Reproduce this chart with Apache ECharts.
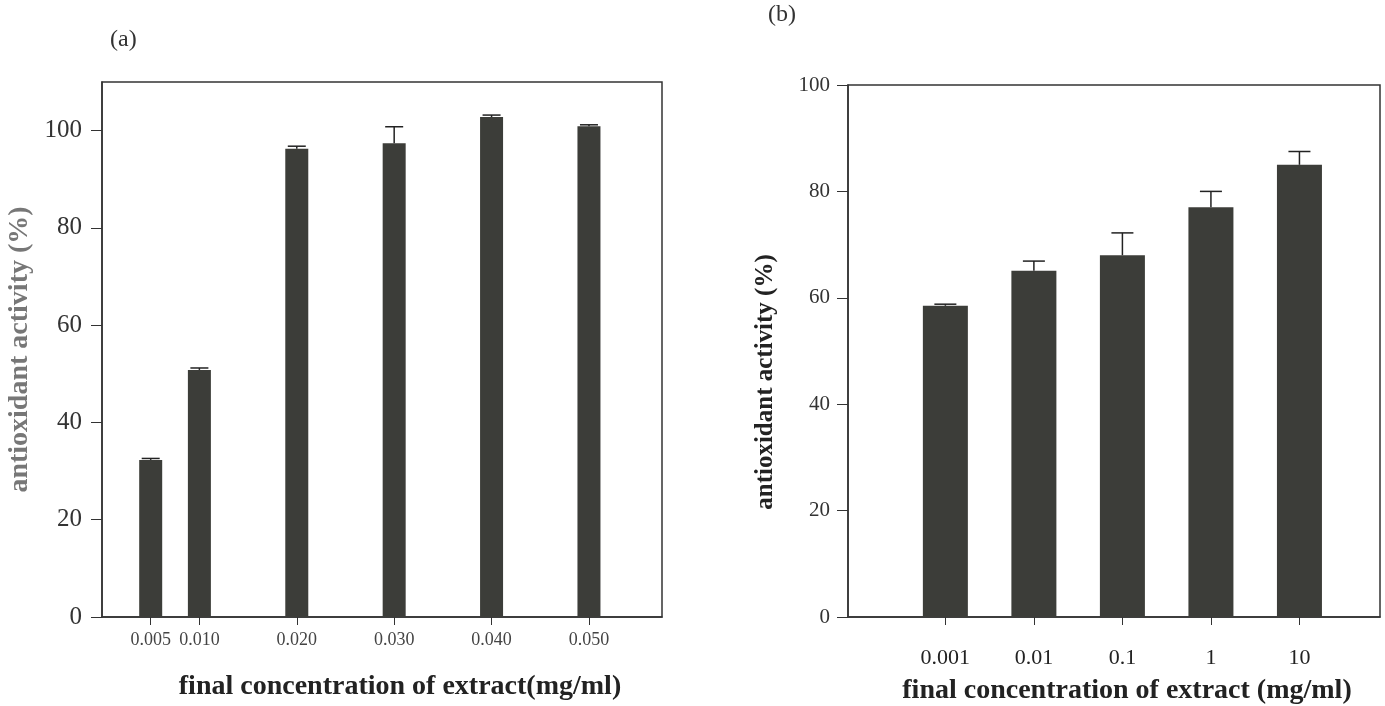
<!DOCTYPE html>
<html>
<head>
<meta charset="utf-8">
<script src="https://cdn.jsdelivr.net/npm/echarts@6/dist/echarts.min.js"></script>
<style>
html, body { margin: 0; padding: 0; background: #fff; }
#chart { width: 1385px; height: 706px; }
</style>
</head>
<body>
<div id="chart"></div>
<script>
// panel (a)
var concA = [0.005, 0.010, 0.020, 0.030, 0.040, 0.050];
var actA = [32.3, 50.8, 96.3, 97.4, 102.8, 100.9];
var errA = [0.3, 0.4, 0.5, 3.4, 0.4, 0.3];
// panel (b), log-spaced concentrations
var concB = ['0.001', '0.01', '0.1', '1', '10'];
var actB = [58.5, 65.1, 68.0, 77.0, 85.0];
var errB = [0.3, 1.8, 4.2, 3.0, 2.5];
var yTicks = [0, 20, 40, 60, 80, 100];

var barColor = '#3c3d39';
var serif = 'Liberation Serif, Times New Roman, serif';

var posB = concB.map(function (c) { return Math.log10(parseFloat(c)); });

var chart = echarts.init(document.getElementById('chart'));

function errItem(capW) {
  return function (params, api) {
    var x = api.value(0), y = api.value(1), e = api.value(2);
    var p0 = api.coord([x, y]);
    var p1 = api.coord([x, y + e]);
    var style = { stroke: '#222', lineWidth: 1.5 };
    return {
      type: 'group',
      children: [
        { type: 'line', shape: { x1: p0[0], y1: p0[1], x2: p1[0], y2: p1[1] }, style: style },
        { type: 'line', shape: { x1: p1[0] - capW / 2, y1: p1[1], x2: p1[0] + capW / 2, y2: p1[1] }, style: style }
      ]
    };
  };
}

var option = {
  animation: false,
  graphic: [
    { type: 'text', left: 110, top: 28, style: { text: '(a)', font: '24px ' + serif, fill: '#333' } },
    { type: 'text', left: 768, top: 3, style: { text: '(b)', font: '24px ' + serif, fill: '#333' } }
  ],
  grid: [
    { left: 102, top: 82, width: 560, height: 535, outerBoundsMode: 'none', show: true, borderColor: '#333', borderWidth: 1.5 },
    { left: 848, top: 85, width: 532, height: 532, outerBoundsMode: 'none', show: true, borderColor: '#333', borderWidth: 1.5 }
  ],
  xAxis: [
    {
      gridIndex: 0, type: 'value', min: 0, max: 0.0575,
      splitLine: { show: false },
      axisLine: { onZero: false, lineStyle: { color: '#333', width: 1.5 } },
      axisTick: { customValues: concA, length: 8, lineStyle: { color: '#333' } },
      axisLabel: {
        customValues: concA, margin: 14, color: '#444', fontFamily: serif, fontSize: 18,
        formatter: function (v) { return v.toFixed(3); }
      },
      name: 'final concentration of extract(mg/ml)', nameLocation: 'middle', nameGap: 56,
      nameTextStyle: { fontFamily: serif, fontWeight: 'bold', fontSize: 28, color: '#222', padding: [0, 0, 0, 36] }
    },
    {
      gridIndex: 1, type: 'value', min: -4.1, max: 1.91,
      splitLine: { show: false },
      axisLine: { onZero: false, lineStyle: { color: '#333', width: 1.5 } },
      axisTick: { customValues: posB, length: 8, lineStyle: { color: '#333' } },
      axisLabel: {
        customValues: posB, margin: 30, color: '#222', fontFamily: serif, fontSize: 22,
        formatter: function (v) { return concB[posB.indexOf(v)]; }
      },
      name: 'final concentration of extract (mg/ml)', nameLocation: 'middle', nameGap: 60,
      nameTextStyle: { fontFamily: serif, fontWeight: 'bold', fontSize: 28, color: '#222', padding: [0, 0, 0, 26] }
    }
  ],
  yAxis: [
    {
      gridIndex: 0, type: 'value', min: 0, max: 110,
      splitLine: { show: false },
      axisLine: { onZero: false, lineStyle: { color: '#333', width: 1.5 } },
      axisTick: { customValues: yTicks, length: 11, lineStyle: { color: '#333' } },
      axisLabel: { customValues: yTicks, margin: 20, color: '#333', fontFamily: serif, fontSize: 25 },
      name: 'antioxidant activity (%)', nameLocation: 'middle', nameGap: 68,
      nameTextStyle: { fontFamily: serif, fontWeight: 'bold', fontSize: 28, color: '#777' }
    },
    {
      gridIndex: 1, type: 'value', min: 0, max: 100,
      splitLine: { show: false },
      axisLine: { onZero: false, lineStyle: { color: '#333', width: 1.5 } },
      axisTick: { customValues: yTicks, length: 11, lineStyle: { color: '#333' } },
      axisLabel: { customValues: yTicks, margin: 18, color: '#333', fontFamily: serif, fontSize: 21 },
      name: 'antioxidant activity (%)', nameLocation: 'middle', nameGap: 70,
      nameTextStyle: { fontFamily: serif, fontWeight: 'bold', fontSize: 25, color: '#222', padding: [0, 62, 0, 0] }
    }
  ],
  series: [
    {
      type: 'bar', xAxisIndex: 0, yAxisIndex: 0, barWidth: 23,
      itemStyle: { color: barColor },
      data: concA.map(function (c, i) { return [c, actA[i]]; })
    },
    {
      type: 'custom', xAxisIndex: 0, yAxisIndex: 0, z: 3,
      renderItem: errItem(18),
      data: concA.map(function (c, i) { return [c, actA[i], errA[i]]; })
    },
    {
      type: 'bar', xAxisIndex: 1, yAxisIndex: 1, barWidth: 45,
      itemStyle: { color: barColor },
      data: posB.map(function (p, i) { return [p, actB[i]]; })
    },
    {
      type: 'custom', xAxisIndex: 1, yAxisIndex: 1, z: 3,
      renderItem: errItem(22),
      data: posB.map(function (p, i) { return [p, actB[i], errB[i]]; })
    }
  ]
};

chart.setOption(option);
</script>
</body>
</html>
